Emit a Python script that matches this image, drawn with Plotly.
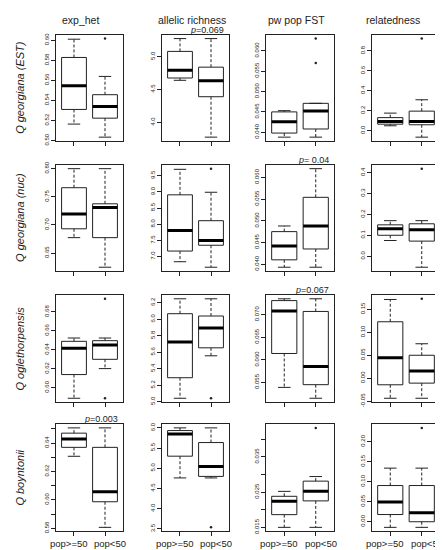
import plotly.graph_objects as go
from plotly.subplots import make_subplots

species = ["Q georgiana (EST)", "Q georgiana (nuc)", "Q oglethorpensis", "Q boyntonii"]
measures = ["exp_het", "allelic richness", "pw pop FST", "relatedness"]
groups = ["pop>=50", "pop<50"]

# box stats per group: lower whisker, Q1, median, Q3, upper whisker (pop>=50, pop<50)
het_est = [[0.5164, 0.5310, 0.5545, 0.5828, 0.6010], [0.5034, 0.5223, 0.5340, 0.5457, 0.5639]]
ar_est = [[4.640, 4.675, 4.795, 5.080, 5.275], [3.775, 4.390, 4.635, 4.840, 5.275]]
fst_est = [[0.0388, 0.0398, 0.0426, 0.0450, 0.0453], [0.0388, 0.0408, 0.0452, 0.0471, 0.0471]]
rel_est = [[0.049, 0.065, 0.091, 0.131, 0.176], [-0.065, 0.059, 0.091, 0.196, 0.310]]

het_nuc = [[0.6775, 0.6932, 0.7195, 0.7662, 0.8000], [0.6250, 0.6775, 0.7312, 0.7376, 0.8000]]
ar_nuc = [[6.84, 7.17, 7.81, 8.91, 9.70], [6.67, 7.35, 7.50, 8.11, 8.99]]
fst_nuc = [[0.0393, 0.0410, 0.0442, 0.0475, 0.0488], [0.0393, 0.0435, 0.0488, 0.0554, 0.0620]]
rel_nuc = [[0.075, 0.100, 0.131, 0.150, 0.170], [-0.053, 0.072, 0.127, 0.155, 0.170]]

het_ogl = [[0.5889, 0.6139, 0.6417, 0.6490, 0.6525], [0.6202, 0.6300, 0.6452, 0.6497, 0.6525]]
ar_ogl = [[5.041, 5.290, 5.725, 6.067, 6.248], [5.556, 5.653, 5.894, 6.039, 6.248]]
fst_ogl = [[0.0539, 0.0614, 0.0708, 0.0731, 0.0735], [0.0515, 0.0545, 0.0585, 0.0707, 0.0735]]
rel_ogl = [[-0.0436, -0.0143, 0.0443, 0.1229, 0.1714], [-0.0436, -0.0107, 0.0157, 0.0500, 0.0750]]

het_boy = [[0.6307, 0.6370, 0.6428, 0.6470, 0.6507], [0.5807, 0.5987, 0.6057, 0.6370, 0.6507]]
ar_boy = [[4.762, 5.300, 5.850, 5.934, 6.000], [4.762, 4.800, 5.043, 5.637, 6.000]]
fst_boy = [[0.0150, 0.0186, 0.0224, 0.0238, 0.0252], [0.0150, 0.0225, 0.0252, 0.0281, 0.0294]]
rel_boy = [[-0.014, 0.018, 0.0494, 0.0905, 0.134], [-0.014, 0.000, 0.0222, 0.0905, 0.134]]

# outliers per group
het_est_out = [[], [0.6016]]
ar_est_out = [[], []]
fst_est_out = [[], [0.0570, 0.0630]]
rel_est_out = [[], [0.924]]
het_nuc_out = [[], []]
ar_nuc_out = [[], [9.72]]
fst_nuc_out = [[], []]
rel_nuc_out = [[], [0.419]]
het_ogl_out = [[], [0.5889, 0.6939]]
ar_ogl_out = [[], [5.041]]
fst_ogl_out = [[], []]
rel_ogl_out = [[], [0.1729]]
het_boy_out = [[], []]
ar_boy_out = [[], [3.54]]
fst_boy_out = [[], [0.0432]]
rel_boy_out = [[], [0.2346]]

# y tick labels (and unlabeled tick marks)
het_est_ticks = ["0.50", "0.52", "0.54", "0.56", "0.58", "0.60"]
ar_est_ticks = ["4.0", "4.5", "5.0"]
fst_est_ticks = ["0.040", "0.045", "0.050", "0.055", "0.060"]
rel_est_ticks = ["0.0", "0.2", "0.4", "0.6", "0.8"]
het_nuc_ticks = ["0.65", "0.70", "0.75", "0.80"]
ar_nuc_ticks = ["7.0", "7.5", "8.0", "8.5", "9.0", "9.5"]
fst_nuc_ticks = ["0.040", "0.045", "0.050", "0.055", "0.060"]
rel_nuc_ticks = ["0.0", "0.1", "0.2", "0.3", "0.4"]
het_ogl_ticks = ["0.60", "0.62", "0.64", "0.66", "0.68"]
ar_ogl_ticks = ["5.0", "5.2", "5.4", "5.6", "5.8", "6.0", "6.2"]
fst_ogl_ticks = ["0.055", "0.060", "0.065", "0.070"]
rel_ogl_ticks = ["-0.05", "0.00", "0.05", "0.10", "0.15"]
het_boy_ticks = ["0.58", "0.60", "0.62", "0.64"]
ar_boy_ticks = ["3.5", "4.0", "4.5", "5.0", "5.5", "6.0"]
fst_boy_ticks = ["0.015", "0.025", "0.035"]
rel_boy_ticks = ["0.00", "0.05", "0.10", "0.15", "0.20"]
het_boy_minor = [0.59, 0.61, 0.63, 0.65]
fst_boy_minor = [0.020, 0.030, 0.040]

# p-value notes: (row, col, text)
pvals = [(0, 1, "=0.069"), (1, 2, "= 0.04"), (2, 2, "=0.067"), (3, 0, "=0.003")]

panels = [[het_est, ar_est, fst_est, rel_est],
          [het_nuc, ar_nuc, fst_nuc, rel_nuc],
          [het_ogl, ar_ogl, fst_ogl, rel_ogl],
          [het_boy, ar_boy, fst_boy, rel_boy]]
outs = [[het_est_out, ar_est_out, fst_est_out, rel_est_out],
        [het_nuc_out, ar_nuc_out, fst_nuc_out, rel_nuc_out],
        [het_ogl_out, ar_ogl_out, fst_ogl_out, rel_ogl_out],
        [het_boy_out, ar_boy_out, fst_boy_out, rel_boy_out]]
ticks = [[het_est_ticks, ar_est_ticks, fst_est_ticks, rel_est_ticks],
         [het_nuc_ticks, ar_nuc_ticks, fst_nuc_ticks, rel_nuc_ticks],
         [het_ogl_ticks, ar_ogl_ticks, fst_ogl_ticks, rel_ogl_ticks],
         [het_boy_ticks, ar_boy_ticks, fst_boy_ticks, rel_boy_ticks]]
minor = {(3, 0): het_boy_minor, (3, 2): fst_boy_minor}

W, H = 443, 550
col_px = [(48, 115), (154, 221), (258, 326), (364, 432)]
row_px = [(24, 132), (156, 264), (288, 397), (419, 528)]
FONT = "Liberation Sans, Arial, sans-serif"
INK = "#222"


def px(x):
    return x / W


def py(y):
    return 1 - y / H


fig = make_subplots(rows=4, cols=4)

for r in range(4):
    for c in range(4):
        stats = panels[r][c]
        pts = outs[r][c]
        sx, sy, dx, dy, mx, my, ox, oy = [], [], [], [], [], [], [], []
        for i, (lw, q1, md, q3, uw) in enumerate(stats):
            p = i + 1
            sx += [p - 0.4, p + 0.4, p + 0.4, p - 0.4, p - 0.4, None,
                   p - 0.2, p + 0.2, None, p - 0.2, p + 0.2, None]
            sy += [q1, q1, q3, q3, q1, None, uw, uw, None, lw, lw, None]
            dx += [p, p, None, p, p, None]
            dy += [q3, uw, None, q1, lw, None]
            mx += [p - 0.4, p + 0.4, None]
            my += [md, md, None]
            for v in pts[i]:
                ox.append(p)
                oy.append(v)

        fig.add_trace(go.Scatter(x=dx, y=dy, mode="lines", hoverinfo="skip",
                                 line=dict(color=INK, width=1, dash="3px,2px")), row=r + 1, col=c + 1)
        fig.add_trace(go.Scatter(x=sx, y=sy, mode="lines", hoverinfo="skip",
                                 line=dict(color=INK, width=1)), row=r + 1, col=c + 1)
        fig.add_trace(go.Scatter(x=mx, y=my, mode="lines", hoverinfo="skip",
                                 line=dict(color="black", width=3)), row=r + 1, col=c + 1)
        if ox:
            fig.add_trace(go.Scatter(x=ox, y=oy, mode="markers",
                                     marker=dict(color=INK, size=2.5)), row=r + 1, col=c + 1)

        allv = [s[0] for s in stats] + [s[4] for s in stats] + sum(pts, [])
        lo, hi = min(allv), max(allv)
        pad = 0.04 * (hi - lo)
        labels = ticks[r][c]
        extra = minor.get((r, c), [])
        fig.update_yaxes(range=[lo - pad, hi + pad],
                         tickvals=[float(t) for t in labels] + extra,
                         ticktext=labels + [""] * len(extra),
                         tickangle=-90, ticks="outside", ticklen=4, tickcolor=INK,
                         tickfont=dict(size=6, color=INK, family=FONT),
                         showline=True, mirror=True, linecolor=INK, linewidth=1,
                         showgrid=False, zeroline=False,
                         domain=[py(row_px[r][1]), py(row_px[r][0])],
                         row=r + 1, col=c + 1)
        fig.update_xaxes(range=[0.42, 2.58], tickvals=[1, 2], showticklabels=False,
                         ticks="outside", ticklen=4, tickcolor=INK,
                         showline=True, mirror=True, linecolor=INK, linewidth=1,
                         showgrid=False, zeroline=False,
                         domain=[px(col_px[c][0]), px(col_px[c][1])],
                         row=r + 1, col=c + 1)

ann = []
title_x = [72, 184, 288, 385]
for c, m in enumerate(measures):
    ann.append(dict(x=px(title_x[c]), y=py(9.5), text=m, showarrow=False,
                    xref="paper", yref="paper", xanchor="center", yanchor="middle",
                    font=dict(size=10.5, color=INK, family=FONT)))
for r, s in enumerate(species):
    ann.append(dict(x=px(12), y=py((row_px[r][0] + row_px[r][1]) / 2), text="<i>" + s + "</i>",
                    textangle=-90, showarrow=False, xref="paper", yref="paper",
                    xanchor="center", yanchor="middle",
                    font=dict(size=11, color=INK, family=FONT)))
for r, c, t in pvals:
    ann.append(dict(x=px(col_px[c][1] - 3), y=py(row_px[r][0] - 4.5), text="<i>p</i>" + t,
                    showarrow=False, xref="paper", yref="paper",
                    xanchor="right", yanchor="middle",
                    font=dict(size=9, color=INK, family=FONT)))
# group labels under the bottom row, nudged apart as in the original
label_shift = [-0.16, 0.17]
for c in range(4):
    for i, g in enumerate(groups):
        ann.append(dict(x=i + 1 + label_shift[i], y=py(540), text=g, showarrow=False,
                        xref="x%d" % (13 + c), yref="paper",
                        xanchor="center", yanchor="middle",
                        font=dict(size=9.5, color=INK, family=FONT)))

fig.update_layout(width=W, height=H, margin=dict(l=0, r=0, t=0, b=0),
                  paper_bgcolor="white", plot_bgcolor="white",
                  showlegend=False, annotations=ann)

fig.write_html("out.html")
